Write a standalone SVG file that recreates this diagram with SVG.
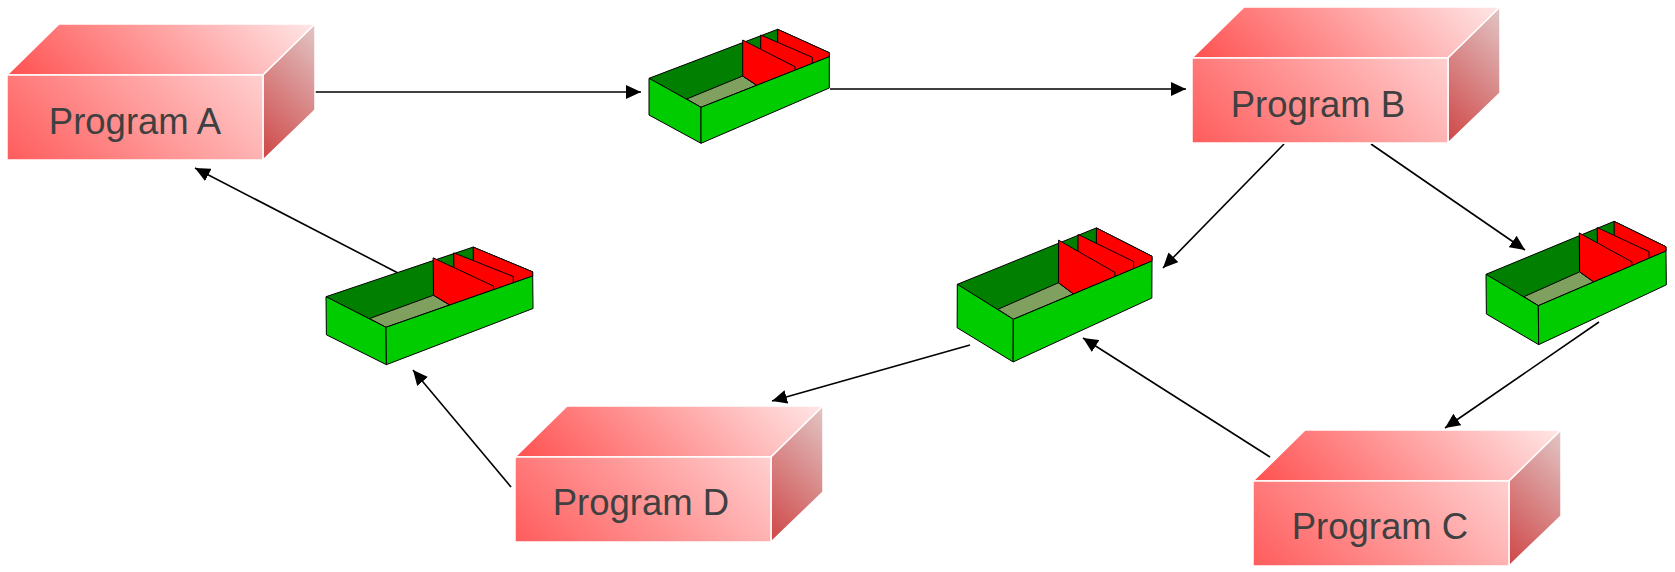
<svg xmlns="http://www.w3.org/2000/svg" xmlns:xlink="http://www.w3.org/1999/xlink" width="1675" height="572" viewBox="0 0 1675 572">
  <defs>
    <style>
      .face { stroke: #ffffff; stroke-width: 1.5; stroke-linejoin: miter; }
      .label { font-family: "Liberation Sans", Arial, sans-serif; font-size: 36.5px; fill: #404040; text-anchor: middle; }
      .conn { stroke: #000000; stroke-width: 1.6; fill: none; marker-end: url(#arrow); }
      .tray * { stroke: #000000; stroke-width: 1; stroke-linejoin: round; vector-effect: non-scaling-stroke; }
      .inner { fill: #007f00; }
      .floor { fill: #80a060; }
      .divider { fill: #ff0000; }
      .wall { fill: #00cc00; }
    </style>
    <!-- diagonal shading of the block faces, in block-local coordinates -->
    <linearGradient id="gFront" gradientUnits="userSpaceOnUse" x1="0" y1="136" x2="170" y2="-34">
      <stop offset="0" stop-color="#ff5c5c"/>
      <stop offset="1" stop-color="#ffcfcf"/>
    </linearGradient>
    <linearGradient id="gTop" gradientUnits="userSpaceOnUse" x1="0" y1="51" x2="179" y2="-128">
      <stop offset="0" stop-color="#ff5050"/>
      <stop offset="1" stop-color="#ffe6e6"/>
    </linearGradient>
    <linearGradient id="gSide" gradientUnits="userSpaceOnUse" x1="256" y1="136" x2="350" y2="42">
      <stop offset="0" stop-color="#cf4646"/>
      <stop offset="1" stop-color="#e2c6c6"/>
    </linearGradient>
    <marker id="arrow" markerUnits="userSpaceOnUse" markerWidth="16" markerHeight="14" refX="15" refY="7" orient="auto">
      <path d="M0,0 L15,7 L0,14 Z" fill="#000000"/>
    </marker>
    <!-- 3D program block: origin at back-left top corner -->
    <g id="block">
      <polygon class="face" points="0,51 52,0 308,0 256,51" fill="url(#gTop)"/>
      <polygon class="face" points="256,51 308,0 308,86 256,136" fill="url(#gSide)"/>
      <rect class="face" x="0" y="51" width="256" height="85" fill="url(#gFront)"/>
    </g>
    <!-- card tray with three dividers: origin at back-left top corner -->
    <g id="tray" class="tray">
      <polygon class="inner" points="0,0 128.7,-49 180.3,-25.6 180.3,-21.6 52,29"/>
      <polygon class="floor" points="37.7,20.7 52,29 107.7,7 93.7,-2.3"/>
      <polygon class="divider" points="128.7,-49 180.3,-25.6 180.3,-21.6 143.7,-7.2 128.7,-16.6"/>
      <polygon class="divider" points="111.7,-43.3 163.3,-21 163.3,-14.9 125.7,0 111.7,-9.6"/>
      <polygon class="divider" points="93.7,-38.3 146,-11.6 146,-8.1 107.7,7 93.7,-2.3"/>
      <polygon class="wall" points="0,0 52,29 52,65 0,36.7"/>
      <polygon class="wall" points="52,29 180.3,-21.6 180.3,9.7 52,65"/>
    </g>
  </defs>

  <rect width="1675" height="572" fill="#ffffff"/>

  <!-- connectors -->
  <g id="connectors">
    <line class="conn" x1="284" y1="92" x2="641" y2="92"/>
    <line class="conn" x1="830" y1="89" x2="1186" y2="89"/>
    <line class="conn" x1="1284" y1="144" x2="1163" y2="268"/>
    <line class="conn" x1="1371" y1="144" x2="1525" y2="250"/>
    <line class="conn" x1="1599" y1="322" x2="1445" y2="428"/>
    <line class="conn" x1="1270" y1="457" x2="1083" y2="338"/>
    <line class="conn" x1="970" y1="345" x2="772" y2="401"/>
    <line class="conn" x1="511" y1="487" x2="413" y2="370"/>
    <line class="conn" x1="398" y1="273" x2="195" y2="168"/>
  </g>

  <!-- programs -->
  <g id="program-a">
    <use href="#block" xlink:href="#block" transform="translate(7,24)"/>
    <text class="label" x="135" y="134">Program A</text>
  </g>
  <g id="program-b">
    <use href="#block" xlink:href="#block" transform="translate(1192,7)"/>
    <text class="label" x="1318" y="117">Program B</text>
  </g>
  <g id="program-c">
    <use href="#block" xlink:href="#block" transform="translate(1253,430)"/>
    <text class="label" x="1380" y="539">Program C</text>
  </g>
  <g id="program-d">
    <use href="#block" xlink:href="#block" transform="translate(515,406)"/>
    <text class="label" x="641" y="515">Program D</text>
  </g>

  <!-- trays -->
  <g id="tray-1">
    <use href="#tray" xlink:href="#tray" transform="translate(649,78.3)"/>
  </g>
  <g id="tray-2">
    <use href="#tray" xlink:href="#tray" transform="matrix(1.1477,0.0096,0.0110,1.0381,326,296.7)"/>
  </g>
  <g id="tray-3">
    <use href="#tray" xlink:href="#tray" transform="matrix(1.0793,0.0126,-0.0043,1.1842,957.3,284.3)"/>
  </g>
  <g id="tray-4">
    <use href="#tray" xlink:href="#tray" transform="matrix(0.9996,0.0004,0.0110,1.0820,1486,274.3)"/>
  </g>
</svg>
